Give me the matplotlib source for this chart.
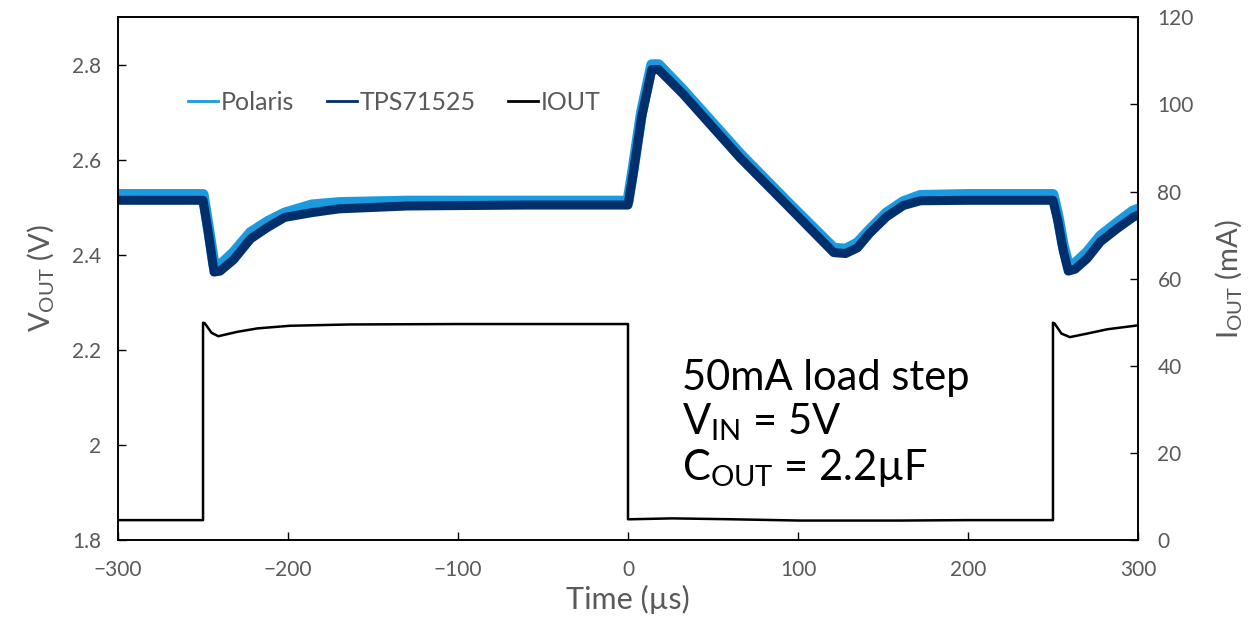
import numpy as np
import matplotlib.pyplot as plt

plt.rcParams['font.family'] = ['Lato', 'DejaVu Sans']
plt.rcParams['mathtext.default'] = 'regular'

# Polaris VOUT (V), band centre
t_pol = [-300, -250, -247, -243.5, -240, -232, -222, -212, -202, -186, -170, -130, -60, 0,
         3, 8, 14, 18, 32, 66, 94, 121, 128, 135, 142, 152, 162, 172, 200, 250,
         253, 256, 259, 263, 270, 278, 288, 297, 300]
v_pol = [2.527, 2.527, 2.46, 2.378, 2.378, 2.405, 2.447, 2.470, 2.488, 2.505, 2.510, 2.513, 2.513, 2.513,
         2.58, 2.70, 2.800, 2.800, 2.748, 2.612, 2.510, 2.414, 2.412, 2.425, 2.452, 2.488, 2.512, 2.525, 2.527, 2.527,
         2.48, 2.42, 2.378, 2.382, 2.405, 2.440, 2.468, 2.492, 2.496]

# TPS71525 VOUT (V)
t_tps = [-300, -250, -247, -243.5, -240, -232, -222, -212, -202, -186, -170, -130, -60, 0,
         3, 8, 14, 18, 32, 66, 94, 121, 128, 135, 142, 152, 162, 172, 200, 250,
         253, 256, 259, 263, 270, 278, 288, 297, 300]
v_tps = [2.515, 2.515, 2.45, 2.364, 2.366, 2.390, 2.434, 2.458, 2.479, 2.489, 2.497, 2.503, 2.505, 2.505,
         2.57, 2.69, 2.790, 2.790, 2.740, 2.604, 2.503, 2.405, 2.403, 2.415, 2.445, 2.480, 2.504, 2.514, 2.515, 2.515,
         2.47, 2.41, 2.366, 2.370, 2.392, 2.428, 2.456, 2.479, 2.484]

# IOUT (mA)
t_i = [-300, -250, -250, -249, -245, -241, -230, -218, -199, -164, -100, 0, 0, 2, 26, 60, 101, 160, 200,
       250, 250, 251, 255, 260, 270, 282, 292, 300]
i_out = [4.6, 4.6, 49.9, 49.8, 47.6, 46.8, 47.8, 48.6, 49.2, 49.5, 49.6, 49.6, 4.8, 4.8, 5.0, 4.8, 4.5, 4.5, 4.6,
         4.6, 49.9, 49.7, 47.4, 46.6, 47.4, 48.4, 48.9, 49.3]

gray = '#595959'
c_pol = '#1a9be0'
c_tps = '#002f6c'

fig = plt.figure(figsize=(12.49, 6.40), dpi=100)
ax = fig.add_axes([0.0945, 0.156, 0.8166, 0.817])
ax2 = ax.twinx()

l1, = ax.plot(t_pol, v_pol, color=c_pol, lw=8, label='Polaris')
l2, = ax.plot(t_tps, v_tps, color=c_tps, lw=6.5, label='TPS71525')
l3, = ax2.plot(t_i, i_out, color='black', lw=1.8, label='IOUT')

ax.set_xlim(-300, 300)
ax.set_ylim(1.8, 2.9)
ax2.set_ylim(0, 120)
ax.set_xticks(np.arange(-300, 301, 100))
ax.set_xticklabels(['\u2212300', '\u2212200', '\u2212100', '0', '100', '200', '300'])
ax.set_yticks([1.8, 2.0, 2.2, 2.4, 2.6, 2.8])
ax.set_yticklabels(['1.8', '2', '2.2', '2.4', '2.6', '2.8'])
ax2.set_yticks(np.arange(0, 121, 20))

ax.tick_params(axis='both', direction='in', length=6, width=1, labelsize=15,
               labelcolor=gray, pad=12)
ax.tick_params(axis='x', pad=14)
ax2.tick_params(axis='y', direction='in', length=6, width=1, labelsize=15,
                labelcolor=gray, pad=14)
for a in (ax, ax2):
    for s in a.spines.values():
        s.set_linewidth(1.2)
        s.set_color('black')

ax.set_xlabel('Time (\u00b5s)', fontsize=22, color=gray, labelpad=4)
ax.set_ylabel('$V_{OUT}$ (V)', fontsize=21, color=gray, labelpad=12)
ax2.set_ylabel('$I_{OUT}$ (mA)', fontsize=21, color=gray, rotation=90, labelpad=14)

ax.legend(handles=[l1, l2, l3], loc='center left', bbox_to_anchor=(0.047, 0.837),
          ncol=3, frameon=False, fontsize=18, handlelength=1.2, handletextpad=0.1,
          columnspacing=1.3, labelcolor=gray)
for h in ax.get_legend().get_lines():
    h.set_linewidth(2)

ax.text(0.553, 0.347, '50mA load step\n$V_{IN}$ = 5V\n$C_{OUT}$ = 2.2\u00b5F',
        transform=ax.transAxes, fontsize=30, color='black', va='top', ha='left',
        linespacing=1.13)

fig.savefig('out.png', dpi=100)
